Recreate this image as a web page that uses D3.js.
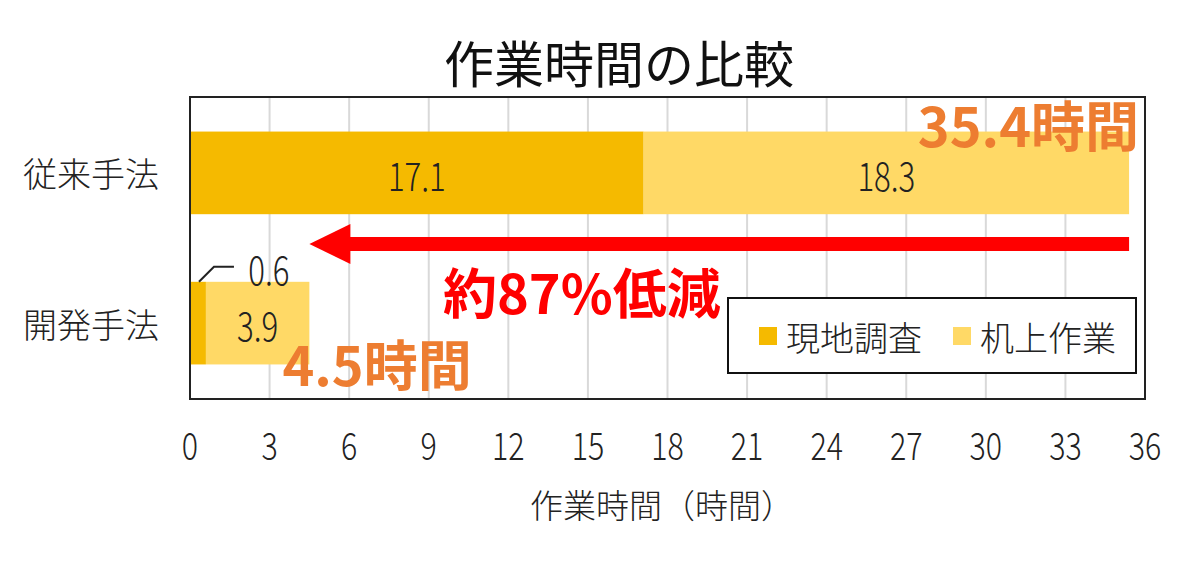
<!DOCTYPE html>
<html><head><meta charset="utf-8">
<script src="https://cdn.jsdelivr.net/npm/d3@7"></script>
<style>body{margin:0;background:#fff;} text{font-family:"Noto Sans CJK JP","Noto Sans",sans-serif;}</style>
</head><body>
<svg id="c" width="1200" height="575"></svg>
<script>
const title = "作業時間の比較";
const categories = ["従来手法", "開発手法"];
const seriesNames = ["現地調査", "机上作業"];
const fieldSurvey = [17.1, 0.6];
const deskWork = [18.3, 3.9];
const totals = [35.4, 4.5];
const tickValues = [0,3,6,9,12,15,18,21,24,27,30,33,36];
const xAxisTitle = "作業時間（時間）";
const reductionText = "約87%低減";
const colors = ["#F5BA00", "#FFD966"];

const svg = d3.select("#c");
const L = 190, R = 1145, T = 97, B = 399;
const x = d3.scaleLinear().domain([0, 36]).range([L, R]);
const y = d3.scaleBand().domain(categories).range([T, B]).paddingInner(0.45).paddingOuter(0.23);
const bw = y.bandwidth();

// title
svg.append("text").attr("x", 619).attr("y", 83).attr("text-anchor", "middle")
  .attr("font-size", 50).attr("fill", "#111").text(title);

// gridlines
svg.append("g").selectAll("line").data(tickValues.filter(v => v > 0 && v < 36)).join("line")
  .attr("x1", d => x(d)).attr("x2", d => x(d)).attr("y1", T).attr("y2", B)
  .attr("stroke", "#D9D9D9").attr("stroke-width", 2);

// bars
const stackData = categories.map((c, i) => ({cat: c, vals: [fieldSurvey[i], deskWork[i]]}));
stackData.forEach(d => {
  let acc = 0;
  d.vals.forEach((v, j) => {
    svg.append("rect").attr("x", x(acc)).attr("y", y(d.cat)).attr("width", x(acc + v) - x(acc))
      .attr("height", bw).attr("fill", colors[j]);
    acc += v;
  });
});

// data labels (condensed look)
function numLabel(cx, cy, txt, size) {
  svg.append("text").attr("transform", `translate(${cx},${cy}) scale(0.78,1)`)
    .attr("text-anchor", "middle").attr("dominant-baseline", "central")
    .attr("font-size", size).attr("font-weight", 300).attr("fill", "#222").text(txt);
}
numLabel(x(fieldSurvey[0] / 2), y(categories[0]) + bw / 2, fieldSurvey[0].toFixed(1), 40);
numLabel(x(fieldSurvey[0] + deskWork[0] / 2), y(categories[0]) + bw / 2, deskWork[0].toFixed(1), 40);
numLabel(x(fieldSurvey[1] + deskWork[1] / 2), y(categories[1]) + bw / 2, deskWork[1].toFixed(1), 40);
// 0.6 label with leader
const by2 = y(categories[1]);
svg.append("path").attr("d", `M${x(fieldSurvey[1]/2)+1},${by2} L${x(fieldSurvey[1]/2)+16},${by2-15} L${x(fieldSurvey[1]/2)+36},${by2-15}`)
  .attr("fill", "none").attr("stroke", "#222").attr("stroke-width", 2);
numLabel(x(fieldSurvey[1]/2) + 71, by2 - 15, fieldSurvey[1].toFixed(1), 40);

// frame
svg.append("rect").attr("x", L).attr("y", T).attr("width", R - L).attr("height", B - T)
  .attr("fill", "none").attr("stroke", "#222").attr("stroke-width", 2);

// x axis tick labels
svg.append("g").selectAll("text").data(tickValues).join("text")
  .attr("transform", d => `translate(${x(d)},${443}) scale(0.8,1)`)
  .attr("text-anchor", "middle").attr("dominant-baseline", "central")
  .attr("font-size", 38).attr("font-weight", 300).attr("fill", "#222").text(d => d);

// x axis title
svg.append("text").attr("x", 662).attr("y", 504).attr("text-anchor", "middle").attr("dominant-baseline", "central")
  .attr("font-size", 33).attr("font-weight", 300).attr("fill", "#222").text(xAxisTitle);

// category labels
svg.append("g").selectAll("text").data(categories).join("text")
  .attr("x", 91).attr("y", d => y(d) + bw / 2).attr("text-anchor", "middle").attr("dominant-baseline", "central")
  .attr("font-size", 34).attr("font-weight", 300).attr("fill", "#222").text(d => d);

// arrow
const ay = (y(categories[0]) + bw + y(categories[1])) / 2 - 4;
const tipX = x(totals[1]);
svg.append("rect").attr("x", tipX + 38).attr("y", ay - 7).attr("width", x(totals[0]) - tipX - 38).attr("height", 14).attr("fill", "#FF0000");
svg.append("path").attr("d", `M${tipX},${ay} L${tipX + 41},${ay - 20} L${tipX + 41},${ay + 20} Z`).attr("fill", "#FF0000");

// reduction text
svg.append("text").attr("x", 443).attr("y", 290).attr("dominant-baseline", "central")
  .attr("font-size", 54).attr("font-weight", "bold").attr("fill", "#FF0000").text(reductionText);

// totals
svg.append("text").attr("x", R - 6).attr("y", y(categories[0]) - 8).attr("text-anchor", "end").attr("dominant-baseline", "central")
  .attr("font-size", 54).attr("font-weight", "bold").attr("fill", "#ED7D31").text(totals[0].toFixed(1) + "時間");
svg.append("text").attr("x", x(totals[1]) - 27).attr("y", y(categories[1]) + bw - 2).attr("dominant-baseline", "central")
  .attr("font-size", 54).attr("font-weight", "bold").attr("fill", "#ED7D31").text(totals[1].toFixed(1) + "時間");

// legend
const lg = svg.append("g").attr("transform", "translate(728,298)");
lg.append("rect").attr("width", 408).attr("height", 75).attr("fill", "#fff").attr("stroke", "#111").attr("stroke-width", 2);
const lx = [31, 225];
seriesNames.forEach((n, i) => {
  lg.append("rect").attr("x", lx[i]).attr("y", 29).attr("width", 18).attr("height", 18).attr("fill", colors[i]);
  lg.append("text").attr("x", lx[i] + 27).attr("y", 38).attr("dominant-baseline", "central")
    .attr("font-size", 34).attr("font-weight", 300).attr("fill", "#222").text(n);
});
</script>
</body></html>
